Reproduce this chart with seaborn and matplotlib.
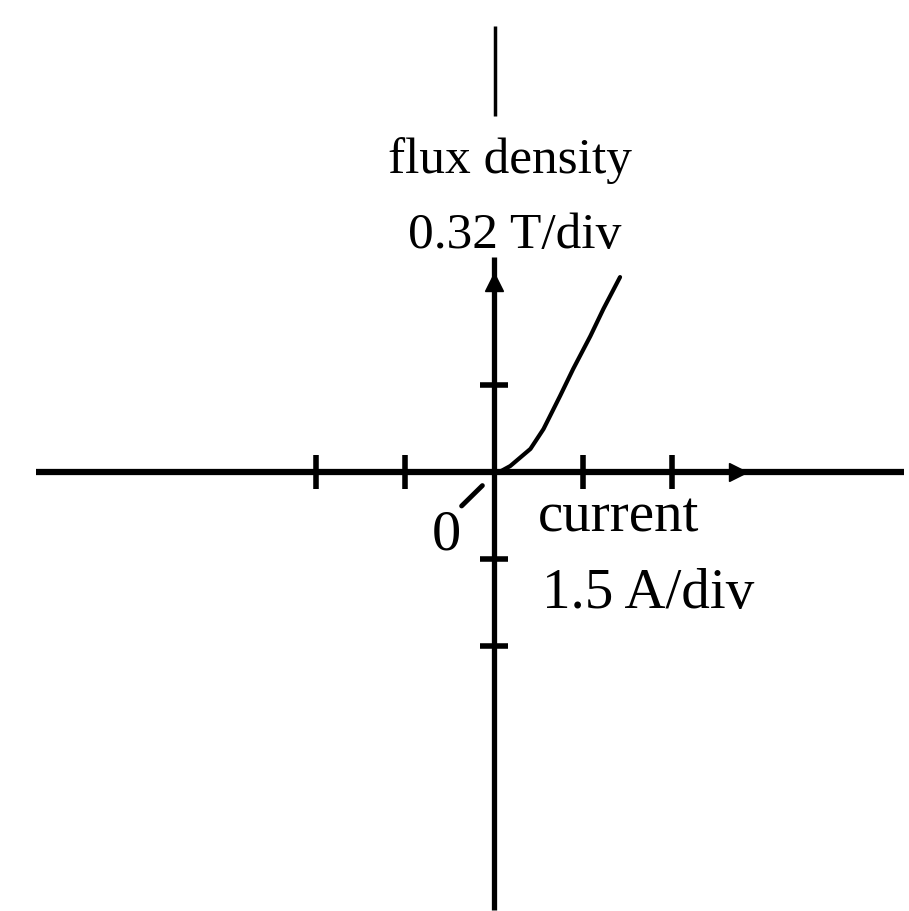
import matplotlib
matplotlib.use("Agg")
import matplotlib.pyplot as plt
import seaborn as sns
import pandas as pd

# magnetisation curve
current = [0.0, 0.12, 0.27, 0.61, 0.83, 1.11, 1.33, 1.62, 1.84, 2.12]       # A
flux = [0.0, 0.004, 0.022, 0.085, 0.158, 0.280, 0.379, 0.500, 0.600, 0.717]  # T

x_ticks = [-3.0, -1.5, 1.5, 3.0]        # 1.5 A/div
y_ticks = [0.32, -0.32, -0.64]          # 0.32 T/div
x_arrow = 4.1
y_arrow = 0.70

sns.set_style("white")
plt.rcParams["font.family"] = ["Liberation Serif", "DejaVu Serif"]
plt.rcParams["text.color"] = "black"

fig = plt.figure(figsize=(9.09, 9.12), dpi=100)
ax = fig.add_axes([0, 0, 1, 1])
ax.set_xlim(-8.33, 6.99)
ax.set_ylim(-1.615, 1.74)
ax.axis("off")

# axes through the origin
ax.plot([-7.73, 6.9], [0, 0], color="black", lw=4.5, solid_capstyle="butt")
ax.plot([0, 0], [-1.61, 0.79], color="black", lw=3.8, solid_capstyle="butt")
ax.plot([0.02, 0.02], [1.31, 1.64], color="black", lw=2.5, solid_capstyle="butt")

ax.plot(x_ticks, [0] * len(x_ticks), ls="none", marker="|", ms=24, mew=4, color="black")
ax.plot([0] * len(y_ticks), y_ticks, ls="none", marker="_", ms=20, mew=4, color="black")
ax.plot([0], [y_arrow], ls="none", marker="^", ms=13, color="black")
ax.plot([x_arrow], [0], ls="none", marker=">", ms=13, color="black")

df = pd.DataFrame({"current": current, "flux": flux})
sns.lineplot(data=df, x="current", y="flux", color="black", lw=3, ax=ax)

ax.text(0.27, 1.103, "flux density", fontsize=37, ha="center", va="baseline")
ax.text(0.35, 0.828, "0.32 T/div", fontsize=37, ha="center", va="baseline")
ax.text(0.74, -0.217, "current", fontsize=41, ha="left", va="baseline")
ax.text(0.81, -0.497, "1.5 A/div", fontsize=41, ha="left", va="baseline")
ax.text(-1.045, -0.283, "0", fontsize=42, ha="left", va="baseline")
ax.plot([-0.55, -0.2], [-0.125, -0.05], color="black", lw=3.5)

fig.savefig("out.png", dpi=100)
